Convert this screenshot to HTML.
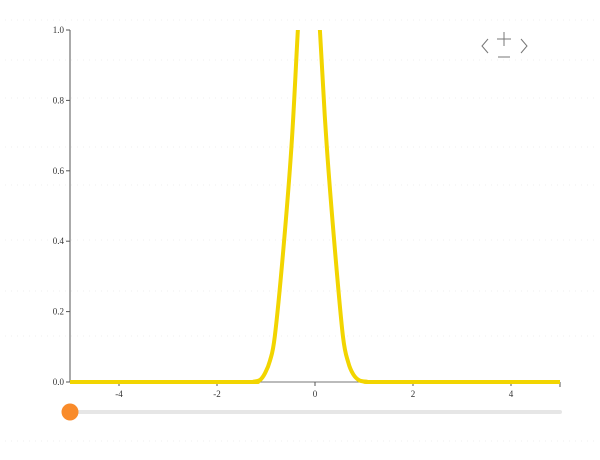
<!DOCTYPE html>
<html><head><meta charset="utf-8"><style>
body{margin:0;background:#fff;}
svg{display:block;font-family:"Liberation Serif",serif;}
</style></head><body>
<svg id="chart" width="600" height="460">
<defs><clipPath id="clip"><rect x="60" y="30" width="510" height="360"/></clipPath></defs>
<g id="grid"></g>
<g id="yaxis"></g>
<g id="xaxis"></g>
<path id="curve" clip-path="url(#clip)" fill="none" stroke="#f2d500" stroke-width="4" stroke-linejoin="round"/>
<g stroke="#777" stroke-width="1" fill="none">
<polyline points="488,39 482,46 488,53"/>
<polyline points="521,39 527,46 521,53"/>
<line x1="504" y1="32" x2="504" y2="46"/><line x1="497" y1="39" x2="511" y2="39"/>
<line x1="498" y1="57" x2="510" y2="57"/>
</g>
<rect x="70" y="410" width="492" height="4" rx="2" fill="#e6e6e6"/>
<circle cx="70" cy="412" r="8.5" fill="#f98b2a"/>
</svg>
<script>
const xs=[-5,-1.5,-1.25,-1.12,-1.02,-0.92,-0.82,-0.65,-0.48,-0.35,-0.12,0.10,0.24,0.41,0.57,0.68,0.78,0.9,1.05,1.4,5];
const ys=[0,0,0.001,0.006,0.025,0.06,0.13,0.37,0.67,1.0,1.6,1.0,0.67,0.37,0.13,0.055,0.022,0.005,0.001,0,0];
const xTicks=[-4,-2,0,2,4];
const yTicks=[0,0.2,0.4,0.6,0.8,1.0];
const X=v=>315+v*49, Y=v=>382-v*352;
const NS="http://www.w3.org/2000/svg";
function mk(t,a,p){const e=document.createElementNS(NS,t);for(const k in a)e.setAttribute(k,a[k]);p.appendChild(e);return e;}
const grid=document.getElementById('grid');
[20,60,98,147,185,240,291,336,441].forEach(y=>{const l=mk('line',{x1:5,x2:595,y1:y,y2:y,stroke:'#efefef','stroke-dasharray':'1,5'},grid);

});
const ya=document.getElementById('yaxis');
mk('line',{x1:70,x2:70,y1:Y(1),y2:Y(0),stroke:'#555'},ya);
yTicks.forEach(t=>{mk('line',{x1:66,x2:70,y1:Y(t),y2:Y(t),stroke:'#555'},ya);
const tx=mk('text',{x:64,y:Y(t)+3,'font-size':9,'text-anchor':'end',fill:'#333'},ya);tx.textContent=t.toFixed(1);

});
const xa=document.getElementById('xaxis');
mk('line',{x1:70,x2:560,y1:382,y2:382,stroke:'#777'},xa);
mk('line',{x1:560,x2:560,y1:382,y2:387,stroke:'#555'},xa);
xTicks.forEach(t=>{mk('line',{x1:X(t),x2:X(t),y1:382,y2:386,stroke:'#555'},xa);
const tx=mk('text',{x:X(t),y:397,'font-size':9,'text-anchor':'middle',fill:'#333'},xa);tx.textContent=t;

});
const P=xs.map((x,i)=>[X(x),Y(ys[i])]);
let d='M'+P[0][0]+','+P[0][1];
for(let i=0;i<P.length-1;i++){const p0=P[Math.max(0,i-1)],p1=P[i],p2=P[i+1],p3=P[Math.min(P.length-1,i+2)];
const c1=[p1[0]+(p2[0]-p0[0])/6,p1[1]+(p2[1]-p0[1])/6],c2=[p2[0]-(p3[0]-p1[0])/6,p2[1]-(p3[1]-p1[1])/6];
d+=`C${c1[0]},${c1[1]} ${c2[0]},${c2[1]} ${p2[0]},${p2[1]}`;}
document.getElementById('curve').setAttribute('d',d);
</script>
</body></html>
